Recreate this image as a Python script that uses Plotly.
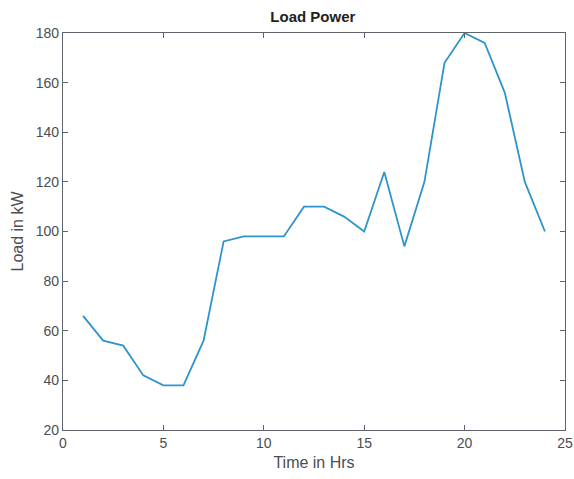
import plotly.graph_objects as go

hours = list(range(1, 25))
load_kw = [66, 56, 54, 42, 38, 38, 56, 96, 98, 98, 98, 110, 110, 106, 100, 124, 94, 120, 168, 180, 176, 156, 120, 100]
x_ticks = [0, 5, 10, 15, 20, 25]
y_ticks = [20, 40, 60, 80, 100, 120, 140, 160, 180]

axis_color = "#5f636a"
font_fam = "Liberation Sans, Arial, sans-serif"

fig = go.Figure()
fig.add_trace(go.Scatter(x=hours, y=load_kw, mode="lines",
                         line=dict(color="#2e94cc", width=1.8), showlegend=False))

axis_common = dict(showgrid=False, zeroline=False, showline=True, mirror="ticks",
                   linecolor=axis_color, linewidth=1.3, ticks="inside", ticklen=5,
                   tickcolor=axis_color, tickwidth=1, automargin=False,
                   tickfont=dict(family=font_fam, size=14, color="#4a4d52"))

fig.update_layout(
    width=574, height=479,
    margin=dict(l=63, r=9, t=33, b=49),
    paper_bgcolor="white", plot_bgcolor="white",
    title=dict(text="<b>Load Power</b>", x=0.545, xanchor="center", y=0.965, yanchor="middle",
               font=dict(family=font_fam, size=15, color="#222")),
    xaxis=dict(range=[0, 25], tickvals=x_ticks,
               title=dict(text="Time in Hrs", standoff=6,
                          font=dict(family=font_fam, size=16, color="#4a4d52")),
               **axis_common),
    yaxis=dict(range=[20, 180], tickvals=y_ticks,
               title=dict(text="Load in kW", standoff=8,
                          font=dict(family=font_fam, size=16, color="#4a4d52")),
               **axis_common),
)

fig.write_html("out.html")
